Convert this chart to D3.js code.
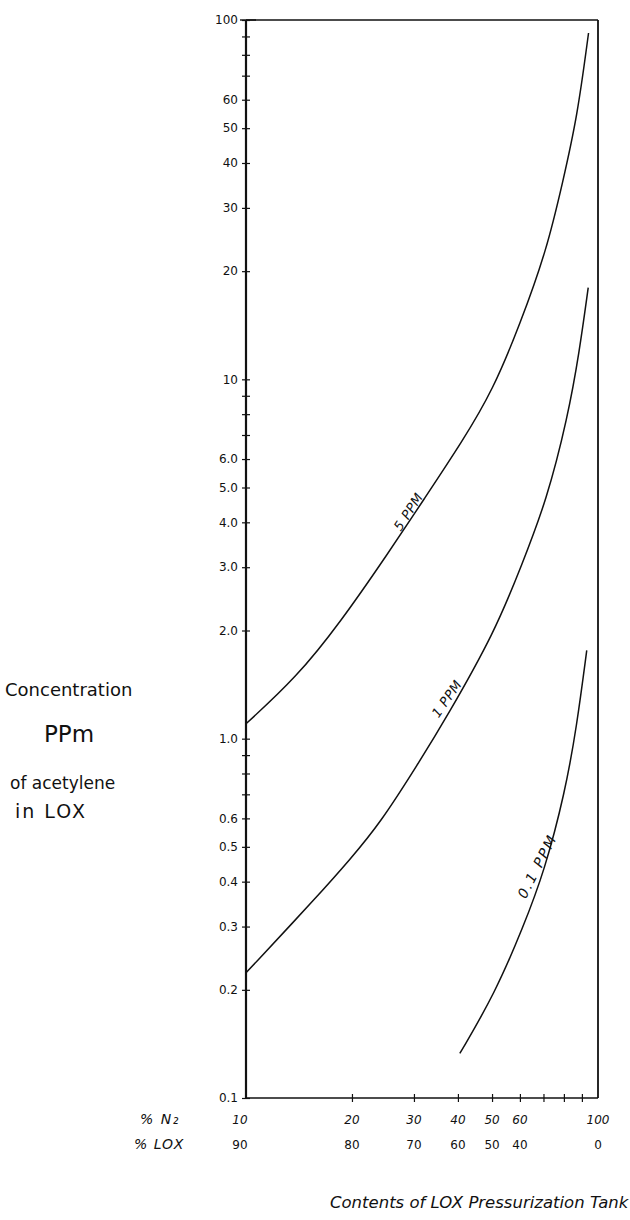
<!DOCTYPE html>
<html>
<head>
<meta charset="utf-8">
<script src="https://cdn.jsdelivr.net/npm/d3@7"></script>
<style>
  html, body { margin: 0; padding: 0; background: #fff; }
  svg { display: block; }
  text { font-family: "DejaVu Sans", "Liberation Sans", sans-serif; fill: #111; }
</style>
</head>
<body>
<svg id="chart" width="630" height="1220"></svg>
<script>
// ---- data ----
const n2_5ppm = [10, 13.9, 18.5, 25.6, 31.9, 41.3, 50.3, 60.0, 71.5, 79.4, 87.3, 94.0];
const c_5ppm  = [1.1, 1.48, 2.10, 3.33, 4.61, 6.75, 9.34, 14.2, 22.9, 35.4, 53.7, 92.0];

const n2_1ppm = [10, 16.2, 19.7, 24.0, 30.8, 37.2, 50.9, 60.7, 71.5, 82.0, 88.5, 93.8];
const c_1ppm  = [0.223, 0.37, 0.46, 0.58, 0.85, 1.15, 1.98, 3.04, 4.61, 7.83, 11.9, 18.0];

const n2_01ppm = [40.5, 50.9, 61.4, 70.6, 80.5, 87.0, 92.9];
const c_01ppm  = [0.133, 0.195, 0.30, 0.431, 0.706, 1.08, 1.76];

const curveNames = ["5 PPM", "1 PPM", "0.1 PPM"];

const yTickValues = [100, 60, 50, 40, 30, 20, 10, 6, 5, 4, 3, 2, 1, 0.6, 0.5, 0.4, 0.3, 0.2, 0.1];
const yTickLabels = ["100", "60", "50", "40", "30", "20", "10", "6.0", "5.0", "4.0", "3.0", "2.0", "1.0", "0.6", "0.5", "0.4", "0.3", "0.2", "0.1"];

const xTickValues   = [10, 20, 30, 40, 50, 60, 100];
const xTickLabelsN2 = ["10", "20", "30", "40", "50", "60", "100"];
const xTickLabelsLOX = ["90", "80", "70", "60", "50", "40", "0"];

const yTitleLines = ["Concentration", "PPm", "of acetylene", "in LOX"];
const xTitle = "Contents of LOX Pressurization Tank";
const rowLabelN2 = "% N\u2082";
const rowLabelLOX = "% LOX";

// ---- layout ----
const svg = d3.select("#chart");
const x = d3.scaleLog().domain([10, 100]).range([246, 598]);
const y = d3.scaleLog().domain([0.1, 100]).range([1098, 20]);

const ink = "#111";

// frame
const g = svg.append("g");
g.append("line").attr("x1", x(10)).attr("x2", x(10)).attr("y1", y(100)).attr("y2", y(0.1))
  .attr("stroke", ink).attr("stroke-width", 2.2);
g.append("line").attr("x1", x(100)).attr("x2", x(100)).attr("y1", y(100)).attr("y2", y(0.1))
  .attr("stroke", ink).attr("stroke-width", 1.8);
g.append("line").attr("x1", x(10)).attr("x2", x(100)).attr("y1", y(0.1)).attr("y2", y(0.1))
  .attr("stroke", ink).attr("stroke-width", 1.6);
g.append("line").attr("x1", x(10)).attr("x2", x(100)).attr("y1", y(100)).attr("y2", y(100))
  .attr("stroke", ink).attr("stroke-width", 1.6);

// y axis (left) with cross ticks
const yMinor = [];
[0.1, 1, 10].forEach(d => { for (let k = 1; k <= 9; k++) yMinor.push(+(d * k).toPrecision(3)); });
yMinor.push(100);
const yAxis = d3.axisLeft(y).tickValues(yMinor).tickSize(4).tickFormat(() => "");
const ya = g.append("g").attr("transform", `translate(${x(10)},0)`).call(yAxis);
ya.select(".domain").remove();
ya.selectAll(".tick line").attr("x2", -4).attr("x1", 4).attr("stroke", ink).attr("stroke-width", 1.2);

// y labels
g.append("g").selectAll("text").data(yTickValues).join("text")
  .attr("x", 238).attr("y", d => y(d)).attr("dy", "0.35em")
  .attr("text-anchor", "end").attr("font-size", 12)
  .text((d, i) => yTickLabels[i]);
g.append("line").attr("x1", 240).attr("x2", 256).attr("y1", y(100)).attr("y2", y(100))
  .attr("stroke", ink).attr("stroke-width", 1.4);

// x axis cross ticks
const xMinor = [20, 30, 40, 50, 60, 70, 80, 90];
const xAxis = d3.axisBottom(x).tickValues(xMinor).tickSize(4).tickFormat(() => "");
const xa = g.append("g").attr("transform", `translate(0,${y(0.1)})`).call(xAxis);
xa.select(".domain").remove();
xa.selectAll(".tick line").attr("y1", -4).attr("y2", 4).attr("stroke", ink).attr("stroke-width", 1.2);

// x labels (two rows)
g.append("g").selectAll("text").data(xTickValues).join("text")
  .attr("x", d => x(d) - (d === 10 ? 6 : 0)).attr("y", 1124).attr("text-anchor", "middle").attr("font-size", 12)
  .attr("font-style", "italic")
  .text((d, i) => xTickLabelsN2[i]);
g.append("g").selectAll("text").data(xTickValues).join("text")
  .attr("x", d => x(d) - (d === 10 ? 6 : 0)).attr("y", 1149).attr("text-anchor", "middle").attr("font-size", 12)
  .text((d, i) => xTickLabelsLOX[i]);
g.append("text").attr("x", 140).attr("y", 1124).attr("font-size", 14).attr("font-style", "italic")
  .attr("letter-spacing", 1.5).text(rowLabelN2);
g.append("text").attr("x", 134).attr("y", 1149).attr("font-size", 14).attr("font-style", "italic")
  .attr("letter-spacing", 1).text(rowLabelLOX);

// axis titles
const yTitlePos = [[5, 696, 18, 0], [44, 742, 23, 0], [10, 789, 17, 0], [15, 818, 19, 2]];
g.append("g").selectAll("text").data(yTitleLines).join("text")
  .attr("x", (d, i) => yTitlePos[i][0]).attr("y", (d, i) => yTitlePos[i][1])
  .attr("font-size", (d, i) => yTitlePos[i][2])
  .attr("letter-spacing", (d, i) => yTitlePos[i][3])
  .text(d => d);
g.append("text").attr("x", 330).attr("y", 1208).attr("font-size", 16.5).attr("font-style", "italic").text(xTitle);

// curves
const line = d3.line().x(d => x(d[0])).y(d => y(d[1])).curve(d3.curveBasis);
const series = [
  d3.zip(n2_5ppm, c_5ppm),
  d3.zip(n2_1ppm, c_1ppm),
  d3.zip(n2_01ppm, c_01ppm)
];
g.append("g").selectAll("path").data(series).join("path")
  .attr("d", line).attr("fill", "none").attr("stroke", ink).attr("stroke-width", 1.5);

// curve labels (anchored on each curve, offset to its upper-left side)
const labelAt = [[29.9, 4.19, -57, 6, 13, 0.5], [39, 1.25, -55, 9, 13, 0.5], [71.6, 0.428, -63, 11, 14, 2]];
labelAt.forEach((p, i) => {
  const px = x(p[0]), py = y(p[1]);
  g.append("text")
    .attr("transform", `translate(${px},${py}) rotate(${p[2]})`)
    .attr("x", 0).attr("y", -p[3]).attr("dy", "0.35em").attr("text-anchor", "middle")
    .attr("font-size", p[4]).attr("font-style", "italic").attr("letter-spacing", p[5])
    .text(curveNames[i]);
});
</script>
</body>
</html>
